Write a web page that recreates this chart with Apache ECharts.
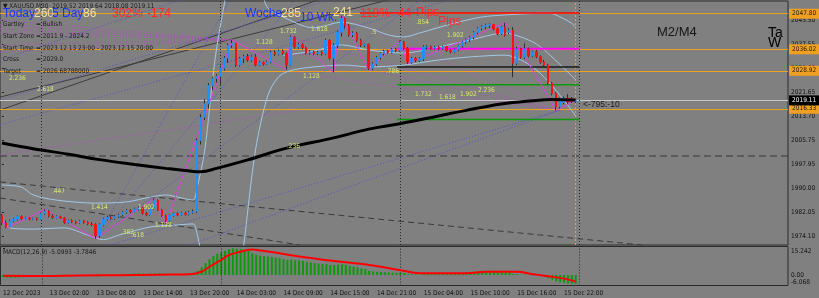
<!DOCTYPE html>
<html><head><meta charset="utf-8">
<script src="https://cdn.jsdelivr.net/npm/echarts@6/dist/echarts.min.js"></script>
<style>html,body{margin:0;padding:0;background:#808080;}#c{width:819px;height:298px;}</style>
</head><body><div id="c"></div>
<script>
// ---------- data ----------
const nSlots = 202; // bar slots incl. chart shift space
const tickIdx = [0,12,24,36,48,60,72,84,96,108,120,132,144];
const tickText = ['12 Dec 2023','13 Dec 02:00','13 Dec 08:00','13 Dec 14:00','13 Dec 20:00','14 Dec 03:00','14 Dec 09:00','14 Dec 15:00','14 Dec 21:00','15 Dec 04:00','15 Dec 10:00','15 Dec 16:00','15 Dec 22:00'];
const priceTicks = [2045.50,2037.55,2029.60,2021.65,2013.70,2005.75,1997.95,1990.00,1982.05,1974.10];
const macdTicks = [-6.068, 0, 15.242];
// [open, high, low, close]
const ohlc = [
[1981.0,1981.5,1977.8,1978.5],[1978.5,1979.3,1976.8,1977.2],[1977.2,1979.6,1977.0,1979.2],[1979.2,1980.2,1978.8,1979.8],
[1979.8,1981.0,1979.3,1980.6],[1980.6,1981.0,1979.5,1979.9],[1979.9,1980.6,1979.6,1980.2],[1980.2,1980.5,1979.4,1979.8],
[1979.8,1980.4,1979.5,1980.1],[1980.1,1980.4,1979.3,1979.7],[1979.7,1982.0,1979.5,1981.6],[1981.6,1983.0,1981.2,1982.4],
[1982.4,1982.8,1980.4,1980.8],[1980.8,1981.4,1979.9,1980.3],[1980.3,1981.0,1980.0,1980.6],[1980.6,1980.9,1979.9,1980.2],
[1980.2,1980.5,1978.2,1978.6],[1978.6,1979.7,1978.3,1979.3],[1979.3,1979.7,1978.5,1978.9],[1978.9,1979.3,1978.1,1978.5],
[1978.5,1979.6,1978.2,1979.2],[1979.2,1979.5,1978.3,1978.7],[1978.7,1979.1,1977.8,1978.2],[1978.2,1978.8,1977.5,1978.0],
[1978.0,1978.4,1973.3,1974.3],[1974.3,1978.4,1973.6,1978.0],[1978.0,1980.3,1977.6,1979.8],[1979.8,1980.9,1979.3,1980.3],
[1980.3,1980.8,1979.6,1980.0],[1980.0,1981.1,1979.6,1980.7],[1980.7,1981.6,1980.2,1981.2],[1981.2,1982.5,1980.8,1982.1],
[1982.1,1983.1,1981.6,1982.7],[1982.7,1983.1,1981.8,1982.3],[1982.3,1983.6,1982.0,1983.1],[1983.1,1984.0,1982.6,1983.5],
[1983.5,1983.9,1981.3,1981.7],[1981.7,1982.2,1980.8,1981.2],[1981.2,1983.6,1980.9,1983.3],[1983.3,1986.6,1983.0,1986.0],
[1986.0,1986.3,1982.5,1982.8],[1982.8,1983.2,1980.6,1981.0],[1981.0,1981.3,1978.3,1979.4],[1979.4,1981.4,1979.0,1981.0],
[1981.0,1982.0,1980.6,1981.6],[1981.6,1982.0,1980.8,1981.2],[1981.2,1982.3,1980.9,1981.8],[1981.8,1982.3,1981.0,1981.4],
[1981.4,1982.5,1981.0,1982.0],[1982.0,1983.0,1981.6,1982.3],[1982.3,2006.5,1981.8,2005.8],[2005.8,2014.5,2004.5,2013.5],
[2013.5,2019.5,2012.6,2018.0],[2018.0,2024.8,2016.4,2024.0],[2024.0,2027.0,2022.5,2026.4],[2026.4,2027.8,2025.0,2027.1],
[2027.1,2030.5,2024.3,2029.8],[2029.8,2033.8,2029.0,2033.1],[2033.1,2038.0,2031.5,2037.4],[2037.4,2039.1,2036.5,2038.0],
[2038.0,2038.2,2030.2,2030.8],[2030.8,2033.5,2030.4,2033.0],[2033.0,2034.2,2031.5,2033.6],[2033.6,2034.5,2031.9,2032.5],
[2032.5,2034.0,2031.9,2033.4],[2033.4,2034.4,2030.4,2030.8],[2030.8,2032.1,2030.4,2031.6],[2031.6,2032.0,2030.6,2031.1],
[2031.1,2032.3,2030.8,2031.8],[2031.8,2035.6,2031.4,2035.0],[2035.0,2035.7,2033.8,2034.4],[2034.4,2036.0,2034.0,2035.5],
[2035.5,2036.0,2034.1,2034.6],[2034.6,2035.0,2029.3,2030.8],[2030.8,2040.6,2030.4,2040.0],[2040.0,2040.4,2036.2,2036.8],
[2036.8,2038.2,2036.2,2037.6],[2037.6,2038.0,2036.0,2036.6],[2036.6,2037.0,2034.3,2034.8],[2034.8,2035.7,2034.3,2035.2],
[2035.2,2035.6,2034.1,2034.6],[2034.6,2035.5,2034.1,2035.0],[2035.0,2035.4,2033.9,2034.6],[2034.6,2039.6,2034.2,2039.0],
[2039.0,2039.4,2032.6,2033.1],[2033.1,2038.0,2028.4,2037.4],[2037.4,2042.2,2036.5,2041.7],[2041.7,2047.1,2040.3,2046.2],
[2046.2,2046.5,2043.0,2043.8],[2043.8,2044.4,2040.2,2040.8],[2040.8,2042.0,2040.1,2041.4],[2041.4,2041.8,2038.5,2039.0],
[2039.0,2039.5,2036.8,2037.4],[2037.4,2038.0,2036.8,2037.7],[2037.7,2037.9,2029.2,2029.8],[2029.8,2031.8,2029.2,2031.2],
[2031.2,2033.8,2030.5,2033.3],[2033.3,2035.0,2032.6,2034.6],[2034.6,2035.9,2034.0,2035.4],[2035.4,2035.9,2034.6,2035.0],
[2035.0,2036.4,2034.7,2036.0],[2036.0,2036.5,2035.1,2035.6],[2035.6,2038.9,2035.2,2038.4],[2038.4,2038.8,2035.9,2036.4],
[2036.4,2036.8,2031.2,2031.8],[2031.8,2033.5,2031.3,2033.0],[2033.0,2033.4,2031.8,2032.4],[2032.4,2033.4,2031.9,2032.9],
[2032.9,2037.4,2032.2,2036.8],[2036.8,2037.4,2035.9,2036.9],[2036.9,2037.3,2035.8,2036.3],[2036.3,2037.2,2035.9,2036.8],
[2036.8,2037.2,2035.7,2036.2],[2036.2,2037.3,2035.8,2036.9],[2036.9,2037.2,2035.2,2035.6],[2035.6,2036.0,2034.7,2035.2],
[2035.2,2036.3,2034.8,2035.9],[2035.9,2037.6,2035.4,2037.2],[2037.2,2038.8,2036.6,2038.4],[2038.4,2039.6,2037.8,2039.2],
[2039.2,2040.4,2038.5,2040.0],[2040.0,2042.0,2039.3,2041.6],[2041.6,2043.4,2041.0,2043.0],[2043.0,2044.0,2042.3,2043.6],
[2043.6,2044.5,2042.7,2044.0],[2044.0,2044.6,2043.1,2044.2],[2044.2,2044.4,2042.3,2042.8],[2042.8,2043.2,2040.7,2041.2],
[2041.2,2043.8,2040.8,2043.4],[2043.4,2044.8,2040.2,2040.6],[2041.6,2043.0,2041.0,2042.4],[2042.4,2043.4,2026.8,2031.4],
[2031.4,2036.8,2030.8,2036.2],[2036.2,2036.5,2032.9,2033.4],[2033.4,2038.0,2032.8,2036.2],[2036.2,2036.6,2033.3,2033.8],
[2033.8,2035.6,2033.3,2035.2],[2035.2,2035.8,2033.1,2033.6],[2033.6,2034.0,2031.2,2031.8],[2031.8,2032.5,2030.3,2030.8],
[2030.8,2031.2,2024.2,2024.8],[2024.8,2025.2,2020.8,2021.4],[2021.4,2021.8,2015.8,2017.0],[2017.0,2020.0,2016.4,2019.6],
[2018.4,2020.4,2017.8,2019.8],[2019.8,2021.2,2018.0,2018.6],[2019.6,2020.2,2018.3,2018.8],[2018.8,2019.6,2018.2,2019.11]
];
// moving average (bar index, price)
const maPts = [[0,2005.0],[8,2003.1],[17,2001.3],[25,1999.5],[34,1997.9],[42,1996.6],[49,1995.6],[51,1995.5],[55,1996.6],[63,1999.4],[73,2003.3],[85,2006.7],[94,2009.6],[102,2011.4],[111,2013.7],[119,2015.8],[128,2017.9],[136,2019.0],[141,2019.4],[147,2019.2]];
// bands (bar index, price); null = off chart
const bandUpper = [[0,1991.1],[5,1990.4],[8,1987.8],[14,1986.1],[24,1985.1],[32,1985.5],[38,1987.1],[42,1987.8],[46,1986.8],[49,1986.1],[50,1990],[52,2002.7],[54.6,2032.5],[57.2,2052.4],[58,2056],[59,null],[66,null],[66.5,2056],[68,2050],[71,2047.4],[80,2043.1],[87,2045.0],[94,2043.1],[99,2040.8],[103,2040.1],[107,2041.4],[116,2044.7],[123,2046.7],[129,2047.4],[140,2048.0],[142,2047.4],[146,2044.7],[147,2043.5]];
const bandMiddle = [[72,2034.0],[80,2035.5],[87,2037.5],[94,2035.8],[103,2034.8],[112,2036.8],[120,2039.1],[129,2041.4],[133,2040.1],[137,2037.8],[141,2033.5],[147,2026.0]];
const bandLower = [[0,1980.2],[2,1976.9],[8,1976.5],[16,1976.9],[22,1974.5],[26,1973.0],[30,1974.5],[38,1977.2],[44,1977.8],[49,1978.2],[50,1975],[51,1969],[51.5,1966],[52,null],[61,null],[61.5,1966],[62,1971.2],[65,2002.7],[68.2,2020.9],[71,2027.0],[74,2029.0],[80,2030.2],[88,2030.8],[94,2030.2],[103,2030.8],[112,2032.5],[120,2033.5],[129,2034.1],[133,2032.5],[137,2029.2],[141,2024.0],[146,2015.9],[147,2014.0]];
const zigzag = [[0,1981.5],[1,1976.8],[11,1983.0],[24,1973.3],[39,1986.6],[42,1978.3],[59,2039.1],[73,2029.3],[74,2040.6],[85,2028.4],[87,2047.1],[94,2029.2],[102,2038.9],[104,2031.2],[129,2044.8],[142,2015.8],[147,2019.11]];
// MACD histogram per bar
const macdHist = [-1.2,-1.5,-1.6,-1.5,-1.4,-1.3,-1.2,-1.1,-1.0,-0.9,-0.6,-0.3,-0.2,
-0.1,0.0,0.1,0.0,-0.1,-0.2,-0.3,-0.3,-0.4,-0.5,-0.5,-0.9,
-0.8,-0.5,-0.3,-0.2,0.0,0.2,0.4,0.6,0.7,0.9,1.0,0.8,
0.7,0.8,1.1,1.0,0.8,0.5,0.5,0.5,0.5,0.5,0.6,0.6,0.7,
2.3,4.5,6.8,9.0,10.9,12.1,13.0,13.9,14.8,15.2,15.0,14.9,14.4,13.6,12.4,11.6,11.1,10.8,10.5,10.4,10.0,9.6,9.1,8.6,8.8,8.5,8.3,8.0,7.5,7.1,6.8,6.5,6.1,6.3,5.7,5.7,5.9,6.1,5.8,5.2,4.8,4.3,3.8,3.4,2.4,2.0,1.8,1.7,1.6,1.4,1.3,1.2,1.3,1.1,0.6,0.4,0.3,0.2,
0.5,0.6,0.6,0.6,0.6,0.7,0.6,0.5,0.6,0.8,1.0,1.3,1.5,1.8,2.1,2.3,2.4,2.5,2.3,2.1,2.2,1.9,1.9,0.6,0.5,0.2,0.3,0.0,-0.1,-0.3,-0.6,-0.9,-1.8,-2.7,-3.8,-4.2,-4.5,-4.8,-5.0,-5.0993];
const macdSignal = [[0,-0.5],[10,-0.6],[20,-0.3],[30,-0.1],[40,0.2],[48,0.4],[51,1.9],[53,4.7],[56,8.6],[58,11.4],[61,13.3],[64,14.6],[66,14.0],[71,12.4],[76,10.5],[85,8.0],[94,5.7],[102,2.7],[107,1.0],[119,1.0],[124,1.9],[132,1.9],[136,0.4],[141,-1.0],[145,-2.5],[147,-3.7846]];
// horizontal levels
const orangeLevels = [2047.80, 2036.02, 2028.92, 2016.33];
const bidPrice = 2019.11;
const dashedLevel = 2000.7;
const separators = [10, 56, 102, 148];
// partial horizontal segments [fromIdx, toIdx, price]
const redSeg = [91.8, 148, 2048.05];
const magentaSeg = [101.3, 148, 2036.2];
const blackSeg = [101.3, 148, 2030.2];
const greenSegs = [[101.3, 148, 2024.3],[101.3, 148, 2012.8]];
// decorative trend / fan lines  [idx1, price1, idx2, price2]
const grayLines = [[-0.5,2020.2,99.0,2052.35],[-0.5,2015.9,81.0,2052.35]];
const grayDashed = [[-0.5,1992.1,164.1,1971.23],[-0.5,1986.8,76.4,1971.23]];
const purpleDotted = [[-0.5,2045.7,59,2039.1],[-0.5,2044.1,59,2039.1],[-0.5,2042.75,59,2039.1],[-0.5,2041.4,59,2039.1],[-0.5,2037.45,59,2039.1],[-0.5,2035.1,59,2039.1],
 [59,2039.1,141.8,2015.9],[73.9,2040.1,141.8,2015.9],[76.4,2028.2,141.8,2015.9],[-0.5,2001.0,76.4,2015.9],[87,2047.1,141.8,2015.9]];
const blueDotted = [[24.4,1973.55,75.1,2052.35],[24.4,1973.55,107.2,2052.35],[24.4,1973.55,58.5,2052.35],[-0.5,2019.2,83.6,2052.35],[-0.5,2011.0,114.9,2052.35],
 [-0.5,2032.5,45.7,2052.35],[27.7,1971.23,143.1,2015.9],[48.2,1971.23,143.1,2015.9]];

// ---------- build ----------
const cats = Array.from({length: nSlots}, (_, i) => String(i));
const candleFull = ohlc.map(r => [r[0], r[3], r[2], r[1]]);
const candleBody = ohlc.map(r => [r[0], r[3], Math.min(r[0], r[3]), Math.max(r[0], r[3])]);
const FONT = "'Liberation Sans', Arial, sans-serif";
const NARROW = "'Liberation Sans Narrow', 'DejaVu Sans Condensed', 'Liberation Sans', sans-serif";

function lineSeries(pts, color, width, type, z, smooth, xi, yi, connect) {
  return {type: 'line', xAxisIndex: xi === undefined ? 2 : xi, yAxisIndex: yi === undefined ? 0 : yi,
    data: pts, symbol: 'none', silent: true, smooth: smooth || false, connectNulls: connect === undefined ? true : connect,
    lineStyle: {color: color, width: width, type: type || 'solid'}, z: z || 1, animation: false};
}
const series = [];
grayLines.forEach(s => series.push(lineSeries([[s[0],s[1]],[s[2],s[3]]], '#3c3c3c', 1, 'solid', 1)));
grayDashed.forEach(s => series.push(lineSeries([[s[0],s[1]],[s[2],s[3]]], '#3a3a3a', 1, [6,4], 1)));
purpleDotted.forEach(s => series.push(lineSeries([[s[0],s[1]],[s[2],s[3]]], '#b04cc0', 1, [1,2], 1)));
blueDotted.forEach(s => series.push(lineSeries([[s[0],s[1]],[s[2],s[3]]], '#5050c8', 1, [1,2], 1)));
series.push(lineSeries([[-0.5,dashedLevel],[nSlots-0.5,dashedLevel]], '#383838', 1, [7,4], 1));
series.push(lineSeries(bandUpper, '#a2c8e6', 1, 'solid', 2, 0.3, 2, 0, false));
series.push(lineSeries(bandMiddle, '#a2c8e6', 1, 'solid', 2, 0.3));
series.push(lineSeries(bandLower, '#a2c8e6', 1, 'solid', 2, 0.3, 2, 0, false));
series.push(lineSeries([[redSeg[0],redSeg[2]],[redSeg[1],redSeg[2]]], '#ff0000', 1.5, 'solid', 2));
series.push(lineSeries([[magentaSeg[0],magentaSeg[2]],[magentaSeg[1],magentaSeg[2]]], '#ff00ff', 2, 'solid', 2));
series.push(lineSeries([[blackSeg[0],blackSeg[2]],[blackSeg[1],blackSeg[2]]], '#1a1a1a', 1.5, 'solid', 2));
greenSegs.forEach(s => series.push(lineSeries([[s[0],s[2]],[s[1],s[2]]], '#0a9a0a', 1.5, 'solid', 2)));
series.push(lineSeries(zigzag, '#e040e0', 1, 'solid', 3));

const levelLines = orangeLevels.map(v => ({yAxis: v, lineStyle: {color: '#f0a020', width: 1, type: 'solid'},
  label: {formatter: v.toFixed(2), backgroundColor: '#f0a020', color: '#1a1a1a'}}));
levelLines.push({yAxis: bidPrice, lineStyle: {color: '#c8c8c8', width: 1, type: 'solid'},
  label: {formatter: bidPrice.toFixed(2), backgroundColor: '#000000', color: '#ffffff'}});
separators.forEach(s => levelLines.push({xAxis: s, lineStyle: {color: '#262626', width: 1, type: [1,2]}, label: {show: false}}));
levelLines.push({xAxis: 147, lineStyle: {color: '#f0a020', width: 1, type: [2,2]}, label: {show: false}});

series.push({type: 'candlestick', xAxisIndex: 0, yAxisIndex: 0, data: candleFull, barWidth: 1, z: 3, silent: true, animation: false,
  itemStyle: {color: 'rgba(0,0,0,0)', color0: 'rgba(0,0,0,0)', borderColor: '#2e2e2e', borderColor0: '#2e2e2e', borderWidth: 1},
  markLine: {symbol: ['none','none'], silent: true, animation: false, z: 2,
    label: {show: true, position: 'end', distance: 1, fontSize: 6.5, fontFamily: NARROW, padding: [2,3,1,3]},
    data: levelLines}});
series.push({type: 'candlestick', xAxisIndex: 0, yAxisIndex: 0, data: candleBody, barWidth: 2, z: 4, silent: true, animation: false,
  itemStyle: {color: '#1e90ff', color0: '#ff1010', borderColor: '#1e90ff', borderColor0: '#ff1010', borderWidth: 1}});
series.push(lineSeries(maPts, '#000000', 3, 'solid', 5, 0.4));

// MACD
series.push({type: 'bar', xAxisIndex: 1, yAxisIndex: 1, data: macdHist, barWidth: 2, silent: true, animation: false,
  itemStyle: {color: '#0a9a0a'},
  markLine: {symbol: ['none','none'], silent: true, animation: false, label: {show: false},
    data: separators.map(s => ({xAxis: s, lineStyle: {color: '#262626', width: 1, type: [1,2]}}))}});
series.push(lineSeries(macdSignal, '#ff0000', 2, 'solid', 5, 0.4, 3, 1));

// texts
function T(text, x, y, size, color, family, weight) {
  return {type: 'text', x: x, y: y, silent: true, z: 50,
    style: {text: text, fill: color, font: (weight || 'normal') + ' ' + size + 'px ' + (family || FONT), verticalAlign: 'middle', align: 'left'}};
}
const fibColor = '#d6e86a';
const fibLabels = [['2.236',9,78],['2.618',37,89],['1.128',256,42],['1.732',280,31],['1.618',311,29],['.5',371,32],['.854',416,22],['1.902',447,35],
 ['1.128',303,76],['.786',386,71],['1.732',415,94],['1.618',439,97],['1.902',460,94],['2.236',478,90],['.236',287,146],['.447',52,191],
 ['1.414',91,207],['1.902',138,207],['1.128',155,225],['.382',121,232],['.618',131,235]];
const graphics = [
  T('\u25BC XAUUSD,M30  2019.52 2019.64 2018.08 2019.11', 3, 6, 6.5, '#1a1a1a', NARROW),
  T('Gartley', 3, 24, 6.5, '#1a1a1a', NARROW), T('= Bullish', 36, 24, 6.5, '#1a1a1a', NARROW),
  T('Start Zone', 3, 36, 6.5, '#1a1a1a', NARROW), T('= 2011.9 - 2024.2', 36, 36, 6.5, '#1a1a1a', NARROW),
  T('Start Time', 3, 48, 6.5, '#1a1a1a', NARROW), T('= 2023.12.13 23:00 - 2023.12.15 20:00', 36, 48, 6.5, '#1a1a1a', NARROW),
  T('Cross', 3, 59, 6.5, '#1a1a1a', NARROW), T('= 2029.0', 36, 59, 6.5, '#1a1a1a', NARROW),
  T('Target', 3, 71, 6.5, '#1a1a1a', NARROW), T('= 2026.68788000', 36, 71, 6.5, '#1a1a1a', NARROW),
  T('Today', 3, 14, 12, '#1a34ff'), T('260', 34, 14, 12, '#f3dfa2'), T('5 Day', 52, 14, 12, '#1a34ff'), T('86', 83, 14, 12, '#f3dfa2'),
  T('302%', 112, 14, 12, '#ff2a2a'), T('-174', 147, 14, 12, '#ff2a2a'),
  T('Woche', 245, 14, 12, '#1a34ff'), T('285', 281, 14, 12, '#f3dfa2'), T('10 Wk.', 300, 18, 12, '#1a34ff'),
  T('241', 333, 13, 12, '#f3dfa2'), T('118%', 360, 14, 12, '#ff2a2a'), T('-44', 394, 14, 12, '#ff2a2a'),
  T('Pips', 416, 13, 12, '#ff2a2a'), T('Pips', 438, 22, 12, '#ff2a2a'),
  T('M2/M4', 657, 32, 13, '#151515'),
  T('Ta', 768, 33, 14, '#000000'), T('W', 768, 43, 14, '#000000'),
  T('<-795:-10', 583, 105, 8.5, '#1e1e1e'),
  T('MACD(12,26,9) -5.0993 -3.7846', 3, 252, 6.5, '#1a1a1a', NARROW),
  {type: 'rect', shape: {x: 0.5, y: 246.5, width: 787.5, height: 39}, silent: true, z: 40,
   style: {fill: 'none', stroke: '#2a2a2a', lineWidth: 1}}
];
fibLabels.forEach(f => graphics.push(T(f[0], f[1], f[2], 6.5, fibColor, NARROW)));

const chart = echarts.init(document.getElementById('c'), null, {renderer: 'canvas', width: 819, height: 298});
chart.setOption({
  animation: false,
  backgroundColor: '#808080',
  grid: [
    {left: 0, right: 31, top: 1, height: 244, show: true, borderColor: '#2a2a2a', borderWidth: 1, backgroundColor: 'transparent'},
    {left: 0, right: 31, top: 248.3, height: 37.3, show: false}
  ],
  xAxis: [
    {type: 'category', gridIndex: 0, data: cats, boundaryGap: true, show: false},
    {type: 'category', gridIndex: 1, data: cats, boundaryGap: true, position: 'bottom', offset: 0,
     axisLine: {show: false}, axisTick: {show: false}, splitLine: {show: false},
     axisLabel: {interval: (i) => tickIdx.indexOf(i) >= 0, formatter: (v) => tickText[tickIdx.indexOf(Number(v))] || '',
       align: 'left', fontSize: 6.5, fontFamily: NARROW, color: '#111', margin: 4}},
    {type: 'value', gridIndex: 0, min: -0.5, max: nSlots - 0.5, show: false},
    {type: 'value', gridIndex: 1, min: -0.5, max: nSlots - 0.5, show: false}
  ],
  yAxis: [
    {type: 'value', gridIndex: 0, min: 1971.23, max: 2052.02, position: 'right', splitLine: {show: false},
     axisLine: {show: false}, axisTick: {show: true, length: 2, customValues: priceTicks, lineStyle: {color: '#222'}},
     axisLabel: {customValues: priceTicks, formatter: v => v.toFixed(2), fontSize: 6.5, fontFamily: NARROW, color: '#111', margin: 3}},
    {type: 'value', gridIndex: 1, min: -6.068, max: 15.242, position: 'right', splitLine: {show: false},
     axisLine: {show: false}, axisTick: {show: true, length: 2, customValues: macdTicks, lineStyle: {color: '#222'}},
     axisLabel: {customValues: macdTicks, formatter: v => (v === 0 ? '0.00' : String(v)), fontSize: 6.5, fontFamily: NARROW,
       color: '#111', margin: 3, verticalAlignMinLabel: 'bottom', verticalAlignMaxLabel: 'top'}}
  ],
  graphic: graphics,
  series: series
});
</script></body></html>
